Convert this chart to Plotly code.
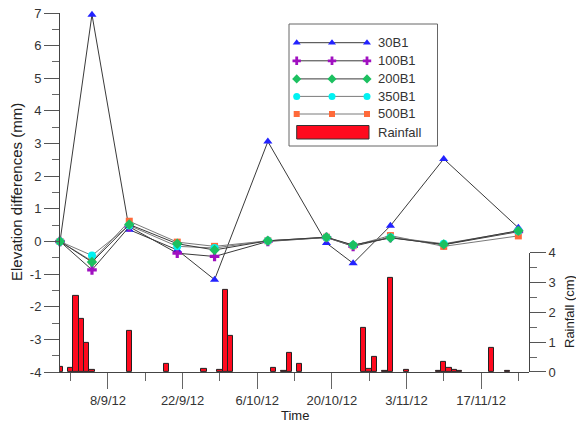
import plotly.graph_objects as go

# ---------------- data ----------------
survey_dates = ['2012-08-30', '2012-09-05', '2012-09-12', '2012-09-21', '2012-09-28',
                '2012-10-08', '2012-10-19', '2012-10-24', '2012-10-31', '2012-11-10', '2012-11-24']
s30 = [0, 6.95, 0.36, -0.26, -1.17, 3.06, -0.05, -0.67, 0.48, 2.53, 0.42]
s100 = [0, -0.87, 0.45, -0.36, -0.46, 0.0, 0.12, -0.15, 0.12, -0.1, 0.3]
s200 = [0, -0.63, 0.52, -0.07, -0.26, 0.02, 0.13, -0.11, 0.11, -0.09, 0.33]
s350 = [0, -0.43, 0.49, -0.15, -0.2, 0.02, 0.12, -0.12, 0.13, -0.07, 0.32]
s500 = [0, -0.6, 0.62, -0.02, -0.15, 0.02, 0.13, -0.13, 0.18, -0.15, 0.17]

rain_dates = ['2012-08-30', '2012-09-01', '2012-09-02', '2012-09-03', '2012-09-04', '2012-09-05',
              '2012-09-12', '2012-09-19', '2012-09-26', '2012-09-29', '2012-09-30', '2012-10-01',
              '2012-10-09', '2012-10-11', '2012-10-12', '2012-10-14', '2012-10-26', '2012-10-27',
              '2012-10-28', '2012-10-30', '2012-10-31', '2012-11-03', '2012-11-09', '2012-11-10',
              '2012-11-11', '2012-11-12', '2012-11-13', '2012-11-19', '2012-11-22']
rain = [0.18, 0.13, 2.54, 1.77, 0.97, 0.06, 1.37, 0.28, 0.1, 0.07, 2.77, 1.22,
        0.13, 0.04, 0.65, 0.27, 1.47, 0.1, 0.5, 0.03, 3.16, 0.07, 0.03, 0.34,
        0.15, 0.06, 0.03, 0.8, 0.03]

x_tick_vals = ['2012-09-08', '2012-09-22', '2012-10-06', '2012-10-20', '2012-11-03', '2012-11-17']
x_tick_text = ['8/9/12', '22/9/12', '6/10/12', '20/10/12', '3/11/12', '17/11/12']
y_tick_vals = [-4, -3, -2, -1, 0, 1, 2, 3, 4, 5, 6, 7]
y_tick_text = ['-4', '-3', '-2', '-1', '0', '1', '2', '3', '4', '5', '6', '7']
rain_tick_vals = [0, 1, 2, 3, 4]

series_names = ['30B1', '100B1', '200B1', '350B1', '500B1']
series_vals = [s30, s100, s200, s350, s500]
series_symbols = ['triangle-up', 'cross', 'diamond', 'circle', 'square']
series_colors = ['#2222ff', '#a010c0', '#1cc060', '#00f2f2', '#ff6a3a']
series_sizes = [8, 8, 8, 8, 7]
line_colors = ['#3a3a3a', '#3a3a3a', '#3a3a3a', '#7a7a7a', '#7a7a7a']
draw_order = [0, 1, 4, 3, 2]

FONT = 'Liberation Sans, Arial, sans-serif'
TXT = '#333333'
AX = '#444444'
DAY = 86400000

fig = go.Figure()

# rainfall bars (lower right axis)
fig.add_trace(go.Bar(x=rain_dates, y=rain, xaxis='x', yaxis='y2', width=DAY,
                     marker=dict(color='#ff0a1e', line=dict(color='#222222', width=1)),
                     showlegend=False, name='Rainfall'))

for i in draw_order:
    fig.add_trace(go.Scatter(x=survey_dates, y=series_vals[i], mode='lines+markers',
                             xaxis='x', yaxis='y',
                             name=series_names[i], cliponaxis=False, showlegend=False,
                             line=dict(color=line_colors[i], width=1),
                             marker=dict(symbol=series_symbols[i], size=series_sizes[i],
                                         color=series_colors[i], line=dict(width=0))))

# ---------------- custom legend ----------------
W, H = 576, 424
ML, MR, MT, MB = 60, 47, 13, 52
PW, PH = W - ML - MR, H - MT - MB


def px(x):
    return (x - ML) / PW


def py(y):
    return (H - MB - y) / PH


leg_rows = [42.7, 60.8, 78.9, 96.4, 114.0]
leg_x = [296.7, 332.0, 367.0]
for i, name in enumerate(series_names):
    fig.add_trace(go.Scatter(x=[px(v) for v in leg_x], y=[py(leg_rows[i])] * 3,
                             xaxis='x3', yaxis='y3', mode='lines+markers', showlegend=False,
                             hoverinfo='skip', cliponaxis=False,
                             line=dict(color=line_colors[i], width=1),
                             marker=dict(symbol=series_symbols[i], size=series_sizes[i] - 1,
                                         color=series_colors[i], line=dict(width=0))))

shapes = [
    dict(type='rect', xref='paper', yref='paper', x0=px(289), x1=px(437.5), y0=py(146), y1=py(24),
         line=dict(color='#666666', width=1), fillcolor='white', layer='below'),
    dict(type='rect', xref='paper', yref='paper', x0=px(296.7), x1=px(369), y0=py(139), y1=py(125.5),
         line=dict(color='#333333', width=1), fillcolor='#ff0a1e'),
]

annotations = []
for i, name in enumerate(series_names + ['Rainfall']):
    yy = leg_rows[i] if i < 5 else 132.5
    annotations.append(dict(x=px(376), y=py(yy), xref='paper', yref='paper', text=name,
                            showarrow=False, xanchor='left', yanchor='middle',
                            font=dict(family=FONT, size=13, color=TXT)))

annotations += [
    dict(x=px(16), y=py(192), xref='paper', yref='paper', text='Elevation differences (mm)',
         textangle=-90, showarrow=False, xanchor='center', yanchor='middle',
         font=dict(family=FONT, size=15, color='#222222')),
    dict(x=px(569), y=py(312), xref='paper', yref='paper', text='Rainfall (cm)',
         textangle=-90, showarrow=False, xanchor='center', yanchor='middle',
         font=dict(family=FONT, size=13, color='#222222')),
    dict(x=px(294.5), y=py(415), xref='paper', yref='paper', text='Time',
         showarrow=False, xanchor='center', yanchor='middle',
         font=dict(family=FONT, size=13, color='#222222')),
]

fig.update_layout(
    width=W, height=H, autosize=False,
    margin=dict(l=ML, r=MR, t=MT, b=MB, pad=0, autoexpand=False),
    paper_bgcolor='white', plot_bgcolor='rgba(0,0,0,0)',
    font=dict(family=FONT, size=13, color=TXT),
    showlegend=False,
    bargap=0,
    xaxis=dict(type='date', range=['2012-08-30', '2012-11-26'], anchor='y', domain=[0, 1],
               showline=True, linecolor=AX, linewidth=1, showgrid=False, zeroline=False,
               ticks='outside', ticklen=16, tickcolor='#666666', tickwidth=1,
               tickmode='array', tickvals=x_tick_vals, ticktext=x_tick_text,
               tickfont=dict(family=FONT, size=13, color=TXT), automargin=False,
               minor=dict(tick0='2012-09-01', dtick=7 * DAY, ticks='outside', ticklen=8,
                          tickcolor='#666666', showgrid=False)),
    yaxis=dict(range=[-4, 7], domain=[0, 1], anchor='x',
               showline=True, linecolor=AX, linewidth=1, showgrid=False, zeroline=False,
               ticks='outside', ticklen=15, tickcolor='#555555', tickwidth=1,
               tickmode='array', tickvals=y_tick_vals, ticktext=y_tick_text,
               tickfont=dict(family=FONT, size=13, color=TXT), automargin=False,
               minor=dict(dtick=0.5, tick0=0, ticks='outside', ticklen=7,
                          tickcolor='#666666', showgrid=False)),
    yaxis2=dict(range=[0, 4], domain=[0, (4 - 0.35) / 11], anchor='x', side='right',
                showline=True, linecolor=AX, linewidth=1, showgrid=False, zeroline=False,
                ticks='outside', ticklen=16, tickcolor='#555555', tickwidth=1,
                tickmode='array', tickvals=rain_tick_vals,
                tickfont=dict(family=FONT, size=13, color=TXT), automargin=False,
                minor=dict(dtick=0.5, tick0=0, ticks='outside', ticklen=7,
                           tickcolor='#666666', showgrid=False)),
    xaxis3=dict(domain=[0, 1], range=[0, 1], anchor='y3', visible=False, fixedrange=True),
    yaxis3=dict(domain=[0, 1], range=[0, 1], anchor='x3', visible=False, fixedrange=True),
    shapes=shapes,
    annotations=annotations,
)

fig.write_html('out.html', config={'displayModeBar': False},
               post_script="document.body.style.margin='0';document.body.style.padding='0';")
